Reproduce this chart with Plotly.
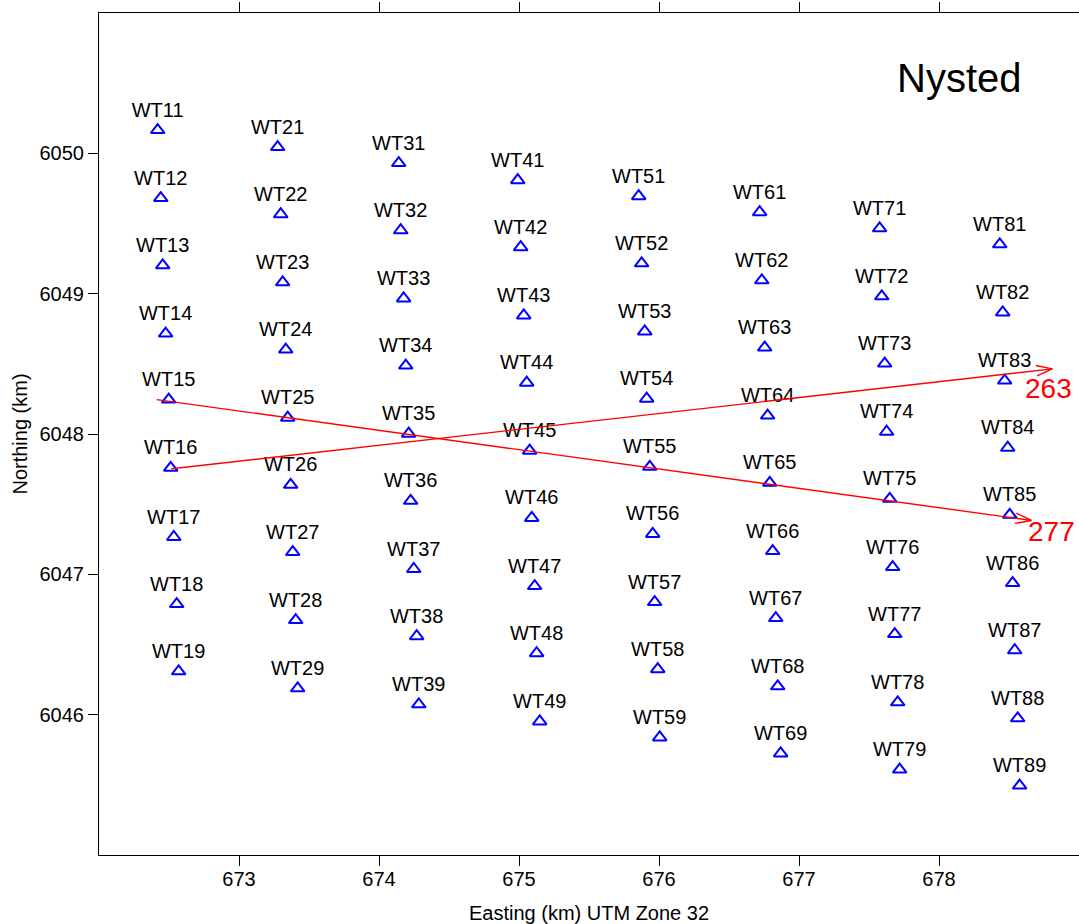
import numpy as np
import plotly.graph_objects as go

# Turbine names and coordinates (km, UTM zone 32)
names = [f"WT{c}{r}" for c in range(1, 9) for r in range(1, 10)]
east = [
    672.419, 672.441, 672.455, 672.476, 672.498, 672.512, 672.534, 672.555, 672.569,
    673.276, 673.298, 673.312, 673.334, 673.348, 673.369, 673.384, 673.405, 673.419,
    674.141, 674.155, 674.176, 674.191, 674.212, 674.226, 674.248, 674.269, 674.284,
    674.991, 675.012, 675.034, 675.055, 675.076, 675.091, 675.112, 675.126, 675.148,
    675.855, 675.876, 675.898, 675.912, 675.934, 675.955, 675.969, 675.991, 676.005,
    676.719, 676.734, 676.755, 676.776, 676.791, 676.812, 676.834, 676.848, 676.869,
    677.576, 677.591, 677.612, 677.626, 677.648, 677.669, 677.684, 677.705, 677.719,
    678.434, 678.455, 678.469, 678.491, 678.505, 678.526, 678.541, 678.562, 678.576,
]
north = [
    6050.166, 6049.681, 6049.202, 6048.716, 6048.245, 6047.759, 6047.266, 6046.788, 6046.309,
    6050.045, 6049.566, 6049.081, 6048.602, 6048.116, 6047.638, 6047.159, 6046.674, 6046.188,
    6049.931, 6049.452, 6048.966, 6048.488, 6048.002, 6047.524, 6047.038, 6046.559, 6046.074,
    6049.809, 6049.331, 6048.845, 6048.366, 6047.881, 6047.402, 6046.916, 6046.438, 6045.952,
    6049.695, 6049.216, 6048.731, 6048.252, 6047.766, 6047.288, 6046.802, 6046.324, 6045.838,
    6049.581, 6049.095, 6048.616, 6048.131, 6047.652, 6047.166, 6046.688, 6046.202, 6045.724,
    6049.466, 6048.981, 6048.502, 6048.016, 6047.538, 6047.052, 6046.574, 6046.088, 6045.609,
    6049.352, 6048.866, 6048.381, 6047.902, 6047.424, 6046.938, 6046.459, 6045.974, 6045.495,
]

# Wind direction arrows
arrow_labels = ["277", "263"]
arrow_start_e = [672.412, 672.517]
arrow_start_n = [6048.245, 6047.752]
arrow_end_e = [678.660, 678.810]
arrow_end_n = [6047.384, 6048.464]
label_e = [678.805, 678.784]
label_n = [6047.305, 6048.322]

x_ticks = [673, 674, 675, 676, 677, 678]
y_ticks = [6046, 6047, 6048, 6049, 6050]

FONT = "Arial, Liberation Sans, sans-serif"

fig = go.Figure()

fig.add_trace(go.Scatter(
    x=east, y=north, mode="markers+text", text=names,
    textposition="top center",
    textfont=dict(family=FONT, size=20, color="black"),
    marker=dict(symbol="triangle-up-open", size=12, color="#0000FF",
                line=dict(width=2, color="#0000FF")),
    showlegend=False, hoverinfo="text",
))

head_len = 0.12
head_ang = np.deg2rad(18)
for i in range(len(arrow_labels)):
    s = np.array([arrow_start_e[i], arrow_start_n[i]])
    e = np.array([arrow_end_e[i], arrow_end_n[i]])
    fig.add_trace(go.Scatter(x=[s[0], e[0]], y=[s[1], e[1]], mode="lines",
                             line=dict(color="red", width=1.4),
                             showlegend=False, hoverinfo="skip"))
    d = (e - s) / np.linalg.norm(e - s)
    pts = []
    for sgn in (1, -1):
        a = sgn * head_ang
        r = np.array([d[0] * np.cos(a) - d[1] * np.sin(a),
                      d[0] * np.sin(a) + d[1] * np.cos(a)])
        pts.append(e - head_len * r)
    fig.add_trace(go.Scatter(x=[pts[0][0], e[0], pts[1][0]],
                             y=[pts[0][1], e[1], pts[1][1]], mode="lines",
                             line=dict(color="red", width=1.4),
                             showlegend=False, hoverinfo="skip"))
    fig.add_annotation(x=label_e[i], y=label_n[i], text=arrow_labels[i],
                       showarrow=False, xanchor="center", yanchor="middle",
                       font=dict(family=FONT, size=28, color="red"))

fig.add_annotation(x=678.148, y=6050.537, text="Nysted", showarrow=False,
                   xanchor="center", yanchor="middle",
                   font=dict(family=FONT, size=40, color="black"))

fig.update_layout(
    width=1079, height=924,
    margin=dict(l=99, r=0, t=13, b=69),
    paper_bgcolor="white", plot_bgcolor="white",
    font=dict(family=FONT, size=20, color="black"),
    xaxis=dict(range=[672, 679], tickvals=x_ticks, ticks="outside", ticklen=10,
               tickcolor="black", showline=True, linecolor="black", linewidth=1,
               mirror="ticks", showgrid=False, zeroline=False,
               tickfont=dict(size=20), ticklabelstandoff=-4,
               title=dict(text="Easting (km) UTM Zone 32", font=dict(size=20), standoff=20)),
    yaxis=dict(range=[6045, 6051], tickvals=y_ticks, ticks="outside", ticklen=10,
               tickcolor="black", showline=True, linecolor="black", linewidth=1,
               showgrid=False, zeroline=False, tickformat="d",
               tickfont=dict(size=20),
               title=dict(text="Northing (km)", font=dict(size=20), standoff=6)),
)

fig.write_html(
    "out.html",
    config={"displayModeBar": False},
    post_script="document.body.style.margin='0';document.body.style.overflow='hidden';",
)
